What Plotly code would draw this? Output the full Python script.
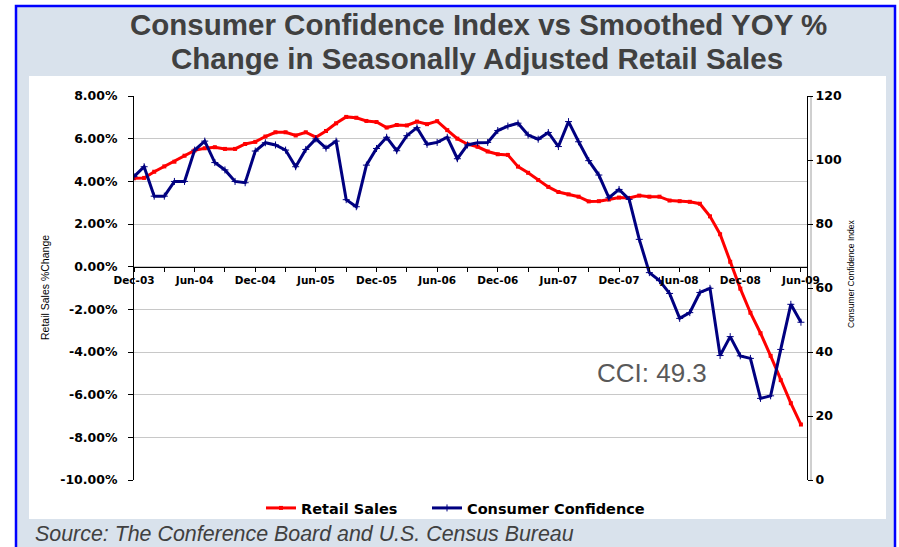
import plotly.graph_objects as go
import pandas as pd

# ---------------- data ----------------
months = [d.strftime("%b-%y") for d in pd.date_range("2003-12-01", "2009-06-01", freq="MS")]

retail_sales = [
    4.14, 4.16, 4.45, 4.70, 4.92, 5.20, 5.45, 5.55, 5.60, 5.52, 5.52, 5.75,   # Dec-03 .. Nov-04
    5.85, 6.10, 6.30, 6.30, 6.15, 6.30, 6.07, 6.36, 6.72, 7.02, 6.98, 6.83,   # Dec-04 .. Nov-05
    6.78, 6.52, 6.64, 6.62, 6.80, 6.68, 6.82, 6.40, 6.00, 5.74, 5.62, 5.40,   # Dec-05 .. Nov-06
    5.27, 5.24, 4.69, 4.40, 4.06, 3.74, 3.50, 3.39, 3.28, 3.06, 3.07, 3.15,   # Dec-06 .. Nov-07
    3.24, 3.22, 3.33, 3.28, 3.28, 3.10, 3.07, 3.04, 2.95, 2.36, 1.52, 0.23,   # Dec-07 .. Nov-08
    -1.03, -2.16, -3.12, -4.18, -5.32, -6.40, -7.40,                          # Dec-08 .. Jun-09
]

consumer_confidence = [
    94.8, 97.9, 88.7, 88.7, 93.3, 93.3, 103.1, 105.9, 99.2, 96.9, 93.3, 92.9,
    102.8, 105.4, 104.7, 103.1, 97.9, 103.3, 106.6, 103.7, 105.9, 87.6, 85.4, 98.4,
    103.6, 107.1, 102.9, 107.6, 110.1, 104.9, 105.5, 107.1, 100.4, 104.7, 105.4, 105.5,
    109.2, 110.6, 111.5, 107.8, 106.5, 108.6, 104.2, 112.0, 105.7, 99.8, 95.3, 88.2,
    90.8, 87.7, 75.2, 64.8, 62.3, 58.3, 50.5, 52.3, 58.6, 59.9, 38.9, 44.8,
    38.8, 38.0, 25.5, 26.3, 40.8, 54.9, 49.3,
]

x_tick_vals = months[::3]
x_tick_text = [m if i % 2 == 0 else "" for i, m in enumerate(x_tick_vals)]

left_tick_vals = [-10, -8, -6, -4, -2, 0, 2, 4, 6, 8]
left_tick_text = [f"{v:.2f}%" for v in left_tick_vals]
right_tick_vals = [0, 20, 40, 60, 80, 100, 120]

title_line1 = "Consumer Confidence Index vs Smoothed YOY %"
title_line2 = "Change in Seasonally Adjusted Retail Sales"
source_text = "Source: The Conference Board and U.S. Census Bureau"
cci_label = "CCI: 49.3"

# ---------------- geometry helpers (pixel -> paper) ----------------
W, H = 899, 547
L, R, T, B = 134, 92, 96, 67
PW, PH = W - L - R, H - T - B


def px(xp):
    return (xp - L) / PW


def py(yp):
    return (H - B - yp) / PH


CHART_FONT = "DejaVu Sans"
TITLE_FONT = "Liberation Sans, Arial"

fig = go.Figure()

fig.add_trace(go.Scatter(
    x=months, y=retail_sales, name="<b>Retail Sales</b>", yaxis="y",
    mode="lines+markers", legendwidth=121,
    line=dict(color="#FF0000", width=3),
    marker=dict(symbol="square", size=4, color="#FF0000"),
))
fig.add_trace(go.Scatter(
    x=months, y=consumer_confidence, name="<b>Consumer Confidence</b>", yaxis="y2",
    mode="lines+markers", legendwidth=200,
    line=dict(color="#000080", width=3),
    marker=dict(symbol="cross-thin", size=5, color="#000080",
                line=dict(width=1, color="#000080")),
))

shapes = [
    # grey slide band with blue frame
    dict(type="rect", xref="paper", yref="paper", layer="below",
         x0=px(16), x1=px(895), y0=py(580), y1=py(6),
         fillcolor="#D9E2EC", line=dict(color="#0000FF", width=2.5)),
    # white chart area
    dict(type="rect", xref="paper", yref="paper", layer="below",
         x0=px(29), x1=px(886), y0=py(519), y1=py(76),
         fillcolor="#FFFFFF", line=dict(width=0)),
    # plot area border on the right
    dict(type="line", xref="paper", yref="paper", layer="below",
         x0=px(811), x1=px(811), y0=0, y1=1,
         line=dict(color="#A0A0A0", width=1)),
]

annotations = [
    dict(text="<b>" + title_line1 + "</b>", xref="paper", yref="paper",
         x=px(478), y=py(24), xanchor="center", yanchor="middle", showarrow=False,
         font=dict(family=TITLE_FONT, size=29.5, color="#404040")),
    dict(text="<b>" + title_line2 + "</b>", xref="paper", yref="paper",
         x=px(477), y=py(59), xanchor="center", yanchor="middle", showarrow=False,
         font=dict(family=TITLE_FONT, size=29.5, color="#404040")),
    dict(text="<i>" + source_text + "</i>", xref="paper", yref="paper",
         x=px(33), y=py(534), xanchor="left", yanchor="middle", showarrow=False,
         font=dict(family=TITLE_FONT, size=21.4, color="#404040")),
    dict(text=cci_label, xref="paper", yref="paper",
         x=px(652), y=py(373), xanchor="center", yanchor="middle", showarrow=False,
         font=dict(family=TITLE_FONT, size=26, color="#595959")),
    dict(text="Retail Sales %Change", xref="paper", yref="paper",
         x=px(45), y=py(288), xanchor="center", yanchor="middle", showarrow=False,
         textangle=-90, font=dict(family=TITLE_FONT, size=10.5, color="#000000")),
    dict(text="Consumer Confidence Index", xref="paper", yref="paper",
         x=px(851), y=py(274), xanchor="center", yanchor="middle", showarrow=False,
         textangle=-90, font=dict(family=TITLE_FONT, size=8.5, color="#000000")),
]

fig.update_layout(
    width=W, height=H,
    margin=dict(l=L, r=R, t=T, b=B, pad=0),
    paper_bgcolor="#FFFFFF",
    plot_bgcolor="#FFFFFF",
    shapes=shapes,
    annotations=annotations,
    showlegend=True,
    legend=dict(
        orientation="h", x=px(261), y=py(508), xanchor="left", yanchor="middle",
        bgcolor="rgba(0,0,0,0)",
        font=dict(family=CHART_FONT, size=14.5, color="#000000"),
        itemclick=False, traceorder="normal",
    ),
    xaxis=dict(
        type="category", range=[0, 66.6],
        tickmode="array", tickvals=x_tick_vals, ticktext=x_tick_text,
        ticks="outside", ticklen=4, tickcolor="#000000", tickwidth=1,
        showline=True, linecolor="#000000", linewidth=1,
        showgrid=False, zeroline=False,
        anchor="free", position=10 / 18,
        tickangle=0,
        tickfont=dict(family=CHART_FONT, size=10.5, color="#000000", weight="bold"),
    ),
    yaxis=dict(
        range=[-10, 8], tickmode="array", tickvals=left_tick_vals, ticktext=left_tick_text,
        ticks="outside", ticklen=5, tickcolor="#000000",
        showline=True, linecolor="#000000", linewidth=1,
        showgrid=True, gridcolor="#C8C8C8", gridwidth=1, zeroline=False,
        anchor="x", ticklabelstandoff=8,
        tickfont=dict(family=CHART_FONT, size=12.5, color="#000000", weight="bold"),
    ),
    yaxis2=dict(
        range=[0, 120], tickmode="array", tickvals=right_tick_vals,
        overlaying="y", side="right", anchor="x",
        ticks="outside", ticklen=5, tickcolor="#000000",
        showline=True, linecolor="#000000", linewidth=1,
        showgrid=False, zeroline=False,
        tickfont=dict(family=CHART_FONT, size=12.5, color="#000000", weight="bold"),
    ),
)

# remove the browser's default 8px body margin so the figure sits at the page origin
fig.write_html(
    "out.html",
    config={"displayModeBar": False},
    post_script="document.body.style.margin='0';document.body.style.overflow='hidden';",
)
